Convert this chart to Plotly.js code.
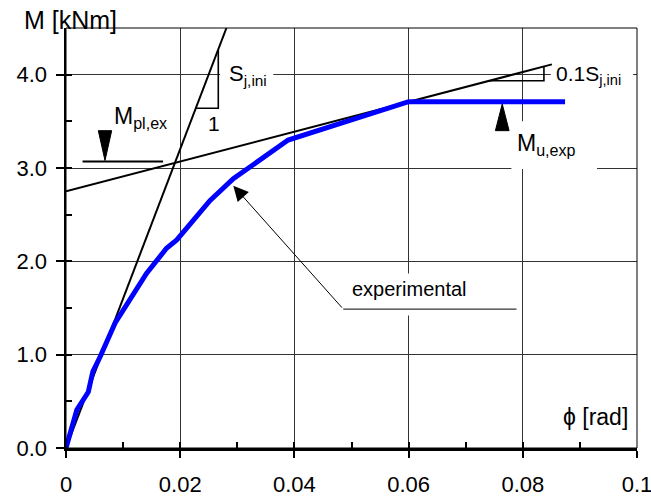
<!DOCTYPE html>
<html>
<head>
<meta charset="utf-8">
<script src="https://cdn.plot.ly/plotly-3.0.1.min.js"></script>
<style>html,body{margin:0;padding:0;background:#fff;}#chart{width:651px;height:497px;}</style>
</head>
<body>
<div id="chart"></div>
<script>
// experimental moment-rotation curve
const phiExp = [0, 0.0019, 0.0039, 0.0047, 0.0060, 0.0086, 0.0141, 0.0176, 0.0194, 0.0252, 0.0293, 0.0389, 0.0600, 0.0874];
const mExp   = [0, 0.41, 0.60, 0.82, 0.98, 1.34, 1.87, 2.14, 2.23, 2.65, 2.885, 3.30, 3.71, 3.71];
// initial stiffness line S_j,ini
const phiIni = [0, 0.0281];
const mIni   = [0, 4.5];
// post-limit stiffness line 0.1 S_j,ini
const phiPost = [0, 0.0851];
const mPost   = [2.75, 4.11];
// slope triangles
const triIniX = [0.02275, 0.02667, 0.02667];
const triIniY = [3.64, 3.64, 4.27];
const triPostX = [0.0741, 0.0837, 0.0837];
const triPostY = [3.935, 3.935, 4.09];
// M_pl,ex level line and marker
const mplX = [0.0029, 0.0170];
const mplY = [3.07, 3.07];
const mplTriX = [0.00566, 0.0080, 0.00683, 0.00566];
const mplTriY = [3.40, 3.40, 3.08, 3.40];
// M_u,exp marker
const muTriX = [0.0752, 0.0776, 0.0764, 0.0752];
const muTriY = [3.40, 3.40, 3.686, 3.40];
// leader for "experimental" label
const leadX = [0.04856, 0.0789];
const leadY = [1.488, 1.488];
// tick labels
const xTickVals = [0, 0.02, 0.04, 0.06, 0.08, 0.1];
const xTickText = ['0', '0.02', '0.04', '0.06', '0.08', '0.1'];
const yTickVals = [0, 1, 2, 3, 4];
const yTickText = ['0.0', '1.0', '2.0', '3.0', '4.0'];

const FONT = 'Liberation Sans, Arial, sans-serif';

const traces = [
  {x: phiIni, y: mIni, mode: 'lines', line: {color: '#000', width: 2}, hoverinfo: 'skip'},
  {x: phiPost, y: mPost, mode: 'lines', line: {color: '#000', width: 2}, hoverinfo: 'skip'},
  {x: triIniX, y: triIniY, mode: 'lines', line: {color: '#000', width: 1.6}, hoverinfo: 'skip'},
  {x: triPostX, y: triPostY, mode: 'lines', line: {color: '#000', width: 1.6}, hoverinfo: 'skip'},
  {x: mplX, y: mplY, mode: 'lines', line: {color: '#000', width: 2}, hoverinfo: 'skip'},
  {x: mplTriX, y: mplTriY, mode: 'lines', fill: 'toself', fillcolor: '#000', line: {color: '#000', width: 1}, hoverinfo: 'skip'},
  {x: muTriX, y: muTriY, mode: 'lines', fill: 'toself', fillcolor: '#000', line: {color: '#000', width: 1}, hoverinfo: 'skip'},
  {x: phiExp, y: mExp, mode: 'lines', line: {color: '#0000ff', width: 5}, hoverinfo: 'skip'},
  {x: [0.05], y: [1], xaxis: 'x2', yaxis: 'y2', mode: 'markers', marker: {opacity: 0}, hoverinfo: 'skip'}
];

const annotations = [
  {xref: 'paper', yref: 'paper', x: -0.077, y: 1.0, xanchor: 'left', yanchor: 'middle', yshift: 8,
   text: 'M [kNm]', showarrow: false, font: {family: FONT, size: 25, color: '#000'}},
  {x: 0.0282, y: 4.0, xanchor: 'left', yanchor: 'middle', text: 'S<sub>j,ini</sub>', showarrow: false,
   font: {family: FONT, size: 22, color: '#000'}},
  {x: 0.0259, y: 3.48, xanchor: 'center', yanchor: 'middle', text: '1', showarrow: false,
   font: {family: FONT, size: 21, color: '#000'}},
  {x: 0.0851, y: 4.0, xanchor: 'left', yanchor: 'middle', xshift: 2, text: '0.1S<sub>j,ini</sub>', showarrow: false,
   font: {family: FONT, size: 21, color: '#000'}},
  {x: 0.0080, y: 3.54, xanchor: 'left', yanchor: 'middle', text: 'M<sub>pl,ex</sub>', showarrow: false,
   font: {family: FONT, size: 23, color: '#000'}},
  {x: 0.0786, y: 3.25, xanchor: 'left', yanchor: 'middle', text: 'M<sub>u,exp</sub>', showarrow: false,
   font: {family: FONT, size: 23, color: '#000'}},
  {x: 0.0602, y: 1.70, xanchor: 'center', yanchor: 'middle', text: 'experimental', showarrow: false,
   font: {family: FONT, size: 20, color: '#000'}},
  {x: 0.0293, y: 2.81, ax: 0.04856, ay: 1.488, axref: 'x', ayref: 'y', text: '', showarrow: true,
   arrowhead: 2, arrowsize: 3, arrowwidth: 1, arrowcolor: '#000'},
  {x: 0.0988, y: 0.33, xanchor: 'right', yanchor: 'middle', text: 'ϕ [rad]', showarrow: false,
   font: {family: FONT, size: 23, color: '#000'}}
];

function whiteBox(x0, x1, y0, y1) {
  return {type: 'rect', xref: 'x', yref: 'y', x0: x0, x1: x1, y0: y0, y1: y1,
          fillcolor: '#fff', line: {width: 0}, layer: 'between'};
}

const layout = {
  width: 651, height: 497,
  margin: {l: 66, r: 14, t: 28, b: 49},
  paper_bgcolor: '#fff', plot_bgcolor: '#fff',
  showlegend: false,
  font: {family: FONT, size: 22, color: '#000'},
  xaxis: {
    range: [0, 0.1], tickvals: xTickVals, ticktext: xTickText,
    showgrid: true, gridcolor: '#333', gridwidth: 1, zeroline: false,
    showline: true, linecolor: '#000', linewidth: 2.5,
    ticks: 'outside', ticklen: 7, tickwidth: 2, tickcolor: '#000',
    ticklabelstandoff: 8, ticklabeloverflow: 'allow',
    tickfont: {family: FONT, size: 22, color: '#000'},
    fixedrange: true
  },
  yaxis: {
    range: [0, 4.5], tickvals: yTickVals, ticktext: yTickText,
    showgrid: true, gridcolor: '#333', gridwidth: 1, zeroline: false,
    showline: true, linecolor: '#000', linewidth: 2.5,
    ticks: 'outside', ticklen: 8, tickwidth: 2, tickcolor: '#000',
    ticklabelstandoff: 4, ticklabeloverflow: 'allow',
    tickfont: {family: FONT, size: 22, color: '#000'},
    fixedrange: true
  },
  xaxis2: {
    overlaying: 'x', anchor: 'y2', side: 'bottom', range: [0, 0.1],
    tickvals: xTickVals, showticklabels: false, showgrid: false, zeroline: false, showline: false,
    ticks: 'inside', ticklen: 6, tickwidth: 2, tickcolor: '#000',
    minor: {dtick: 0.01, tick0: 0, ticks: 'inside', ticklen: 6, tickwidth: 2, tickcolor: '#000', showgrid: false},
    fixedrange: true
  },
  yaxis2: {
    overlaying: 'y', anchor: 'x2', side: 'left', range: [0, 4.5],
    tickvals: yTickVals, showticklabels: false, showgrid: false, zeroline: false, showline: false,
    ticks: 'inside', ticklen: 6, tickwidth: 2, tickcolor: '#000',
    minor: {dtick: 0.5, tick0: 0, ticks: 'inside', ticklen: 6, tickwidth: 2, tickcolor: '#000', showgrid: false},
    fixedrange: true
  },
  shapes: [
    whiteBox(0.0270, 0.0363, 3.85, 4.15),
    whiteBox(0.0849, 0.0993, 3.85, 4.15),
    whiteBox(0.0780, 0.0930, 2.99, 3.50),
    whiteBox(0.0486, 0.0790, 1.42, 1.87),
    {type: 'rect', xref: 'paper', yref: 'paper', x0: 0, x1: 1, y0: 0, y1: 1,
     line: {color: '#000', width: 1}, layer: 'above'},
    {type: 'line', xref: 'x', yref: 'y', x0: leadX[0], x1: leadX[1], y0: leadY[0], y1: leadY[1],
     line: {color: '#000', width: 1}, layer: 'above'}
  ],
  annotations: annotations
};

Plotly.newPlot('chart', traces, layout, {displayModeBar: false, staticPlot: true});
</script>
</body>
</html>
